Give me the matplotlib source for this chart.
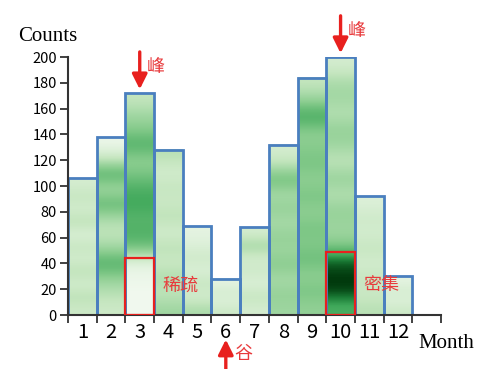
import numpy as np
import matplotlib.pyplot as plt
from matplotlib.colors import LinearSegmentedColormap
from matplotlib.patches import Rectangle

plt.rcParams['font.family'] = ['Noto Sans CJK SC', 'DejaVu Sans']

# monthly counts
months = [1, 2, 3, 4, 5, 6, 7, 8, 9, 10, 11, 12]
counts = [106, 138, 172, 128, 69, 28, 68, 132, 184, 200, 92, 30]

# density shading inside each bar, bottom -> top (0 = sparse, 1 = dense)
density = [
    [0.25, 0.35, 0.2, 0.35, 0.2, 0.3, 0.15, 0.35, 0.2, 0.3, 0.2],
    [0.25, 0.35, 0.5, 0.75, 0.45, 0.3, 0.4, 0.7, 0.4, 0.75, 0.3, 0.05],
    [0.02, 0.02, 0.05, 0.1, 0.6, 0.75, 0.7, 0.8, 0.75, 0.6, 0.5, 0.75, 0.55, 0.45, 0.3],
    [0.45, 0.3, 0.4, 0.25, 0.35, 0.2, 0.35, 0.25, 0.3, 0.2, 0.35],
    [0.4, 0.2, 0.3, 0.15, 0.25, 0.15, 0.1],
    [0.25, 0.15, 0.2, 0.1],
    [0.2, 0.3, 0.15, 0.25, 0.2, 0.45, 0.2],
    [0.45, 0.5, 0.4, 0.55, 0.45, 0.5, 0.4, 0.5, 0.4, 0.65, 0.35, 0.2],
    [0.5, 0.6, 0.5, 0.65, 0.55, 0.6, 0.5, 0.6, 0.5, 0.6, 0.55, 0.5, 0.8, 0.5, 0.3],
    [0.75, 1.0, 1.0, 0.92, 0.5, 0.45, 0.5, 0.35, 0.5, 0.3, 0.45, 0.5, 0.35, 0.45, 0.4, 0.2],
    [0.35, 0.25, 0.3, 0.2, 0.3, 0.2, 0.25, 0.15],
    [0.25, 0.15, 0.2, 0.1],
]

# highlighted regions: (month, top of box, label)
boxes = [(3, 44, '稀疏'), (10, 49, '密集')]
peaks = [3, 10]
valley = 6

cmap = LinearSegmentedColormap.from_list(
    'dens', [(0.0, '#f4faf2'), (0.3, '#c5e6bf'), (0.55, '#86cb8c'),
             (0.8, '#3fa85a'), (0.9, '#1a7a35'), (1.0, '#00380c')])
red = '#e8201e'
text_red = '#e83a3c'
edge = '#4a7fbf'

fig = plt.figure(figsize=(5, 3.69), dpi=100)
ax = fig.add_axes([0.136, 0.1463, 0.746, 0.699])

for m, c, d in zip(months, counts, density):
    col = np.array(d).reshape(-1, 1)
    ax.imshow(col, cmap=cmap, vmin=0, vmax=1, origin='lower', aspect='auto',
              interpolation='bicubic', extent=[m - 0.5, m + 0.5, 0, c], zorder=1)
ax.bar(months, counts, width=1.0, facecolor='none', edgecolor=edge, linewidth=2, zorder=2)

for m, top, label in boxes:
    ax.add_patch(Rectangle((m - 0.5, 0), 1, top, fill=False, edgecolor=red, linewidth=1.6, zorder=3))
    ax.text(m + 0.78, 23, label, color=text_red, fontsize=13, va='center', ha='left', zorder=4)

arrow = dict(arrowstyle='-|>,head_width=0.45,head_length=0.9', color=red, lw=2.4, shrinkA=0, shrinkB=0)
for m in peaks:
    top = counts[m - 1]
    ax.annotate('', xy=(m, top + 3), xytext=(m, top + 32), arrowprops=arrow, annotation_clip=False)
    ax.text(m + 0.25, top + 20, '峰', color=text_red, fontsize=13, va='center', ha='left')

ax.annotate('', xy=(valley, -19), xytext=(valley, -46), arrowprops=arrow, annotation_clip=False)
ax.text(valley + 0.28, -30, '谷', color=text_red, fontsize=13, va='center', ha='left', clip_on=False)

ax.set_xlim(0.5, 13.5)
ax.set_ylim(0, 200)
ax.set_yticks(range(0, 201, 20))
ax.set_xticks(np.arange(0.5, 13.6, 1))
ax.set_xticklabels([])
ax.set_xticks(months, minor=True)
ax.set_xticklabels([str(m) for m in months], minor=True, fontsize=14.5)
ax.tick_params(axis='x', which='major', length=6, width=1.3, color='#333333')
ax.tick_params(axis='x', which='minor', length=0, pad=5)
ax.tick_params(axis='y', length=6, width=1.3, color='#333333', labelsize=10.5, pad=2)
for s in ['top', 'right']:
    ax.spines[s].set_visible(False)
for s in ['left', 'bottom']:
    ax.spines[s].set_linewidth(1.5)
    ax.spines[s].set_color('#333333')

fig.text(0.036, 0.89, 'Counts', family='Liberation Serif', fontsize=15, ha='left', va='baseline')
fig.text(0.836, 0.057, 'Month', family='Liberation Serif', fontsize=15, ha='left', va='baseline')

fig.savefig('out.png', dpi=100)
